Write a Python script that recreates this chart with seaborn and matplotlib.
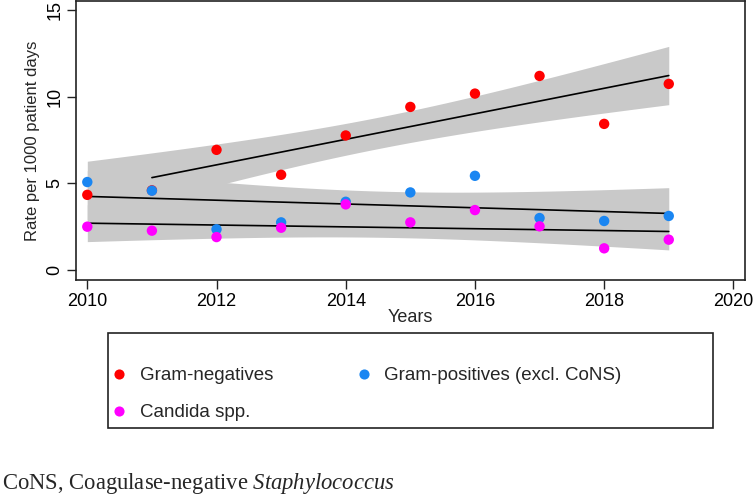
import numpy as np
import pandas as pd
import seaborn as sns
import matplotlib.pyplot as plt
from matplotlib.lines import Line2D
from matplotlib.patches import Rectangle

# ---------------- data ----------------
years = [2010, 2011, 2012, 2013, 2014, 2015, 2016, 2017, 2018, 2019]
gram_negatives = [4.34, 4.60, 6.94, 5.50, 7.77, 9.42, 10.19, 11.21, 8.44, 10.75]
gram_positives = [5.08, 4.58, 2.35, 2.75, 3.94, 4.48, 5.44, 3.00, 2.83, 3.12]
candida = [2.50, 2.27, 1.90, 2.44, 3.79, 2.75, 3.46, 2.52, 1.25, 1.75]

series_names = ["Gram-negatives", "Gram-positives (excl. CoNS)", "Candida spp."]
series_values = [gram_negatives, gram_positives, candida]
series_colors = ["#FF0000", "#1A86F2", "#FF00FF"]
line_start = [2011, 2010, 2010]   # first year drawn for each fitted line

x_ticks = [2010, 2012, 2014, 2016, 2018, 2020]
y_ticks = [0, 5, 10, 15]
y_tick_labels = ["0", "5", "10", "15"]
footnote = r"CoNS, Coagulase-negative $\mathit{Staphylococcus}$"

df = pd.DataFrame({
    "Year": years * 3,
    "Rate": gram_negatives + gram_positives + candida,
    "Series": sum([[n] * len(years) for n in series_names], []),
})

# ---------------- style ----------------
sns.set_theme(style="ticks")
plt.rcParams["font.family"] = ["Liberation Sans", "DejaVu Sans"]
plt.rcParams["mathtext.fontset"] = "custom"
plt.rcParams["mathtext.rm"] = "Liberation Serif"
plt.rcParams["mathtext.it"] = "Liberation Serif:italic"

W, H = 754, 497
fig = plt.figure(figsize=(W / 100, H / 100), dpi=100)
fig.patch.set_facecolor("white")
ax = fig.add_axes([76 / W, 1 - 280 / H, (745 - 76) / W, (280 - 1) / H])

band_color = "#C9C9C9"


def t975(dof):
    try:
        from scipy import stats
        return float(stats.t.ppf(0.975, dof))
    except Exception:
        table = {7: 2.365, 8: 2.306, 9: 2.262}
        return table.get(dof, 1.96)


# linear fit with 95% confidence interval of the mean
fits = []
for name, vals, start in zip(series_names, series_values, line_start):
    x = np.asarray(years, float)
    y = np.asarray(vals, float)
    n = len(x)
    b1, b0 = np.polyfit(x, y, 1)
    resid = y - (b0 + b1 * x)
    s = np.sqrt(np.sum(resid ** 2) / (n - 2))
    xm = x.mean()
    sxx = np.sum((x - xm) ** 2)
    grid = np.linspace(x.min(), x.max(), 100)
    fit = b0 + b1 * grid
    half = t975(n - 2) * s * np.sqrt(1.0 / n + (grid - xm) ** 2 / sxx)
    ax.fill_between(grid, fit - half, fit + half, color=band_color,
                    lw=0, zorder=1)
    fits.append((name, grid, fit, start))

for name, grid, fit, start in fits:
    keep = grid >= start
    line_df = pd.DataFrame({"Year": grid[keep], "Fit": fit[keep]})
    sns.lineplot(data=line_df, x="Year", y="Fit", color="black", lw=1.2,
                 zorder=2, ax=ax, legend=False)

sns.scatterplot(data=df, x="Year", y="Rate", hue="Series",
                palette=series_colors, hue_order=series_names,
                s=56, edgecolor="none", linewidth=0, legend=False,
                zorder=3, ax=ax)

ax.set_xlim(2009.825, 2020.18)
ax.set_ylim(-0.58, 15.54)
ax.set_xticks(x_ticks)
ax.set_yticks(y_ticks)
ax.set_yticklabels(y_tick_labels, rotation=90, va="center", ha="right")
ax.tick_params(axis="both", labelsize=13, length=6.5, width=1.0,
               color="#222222", labelcolor="black")
ax.tick_params(axis="x", pad=3)
ax.tick_params(axis="y", pad=2.7)
for s in ax.spines.values():
    s.set_visible(True)
    s.set_color("#222222")
    s.set_linewidth(1.2)
ax.set_xlabel("Years", fontsize=13)
ax.set_ylabel("Rate per 1000 patient days", fontsize=12)
ax.xaxis.set_label_coords(0.5, -(309 - 280) / 279)
ax.yaxis.set_label_coords(-(76 - 40) / 669, 0.5)

# ---------------- legend ----------------
order = [0, 2, 1]
handles = [Line2D([], [], marker="o", ls="", color=series_colors[i],
                  markersize=7.3, markeredgewidth=0) for i in order]
labels = [series_names[i] for i in order]
fig.legend(handles, labels, loc="upper left",
           bbox_to_anchor=(100.6 / W, 1 - 358 / H), bbox_transform=fig.transFigure,
           ncol=2, frameon=False, borderpad=0, handlelength=1.0,
           handletextpad=0.6, columnspacing=4.32, labelspacing=1.05,
           fontsize=13.5)
fig.add_artist(Rectangle((107.7 / W, 1 - 428.3 / H), (713 - 107.7) / W,
                         (428.3 - 333.3) / H, transform=fig.transFigure,
                         fill=False, ec="#222222", lw=1.2))

fig.text(0.002, 1 - 484 / H, footnote, ha="left", va="center",
         family="Liberation Serif", fontsize=16.3)

fig.savefig("out.png", dpi=100)
